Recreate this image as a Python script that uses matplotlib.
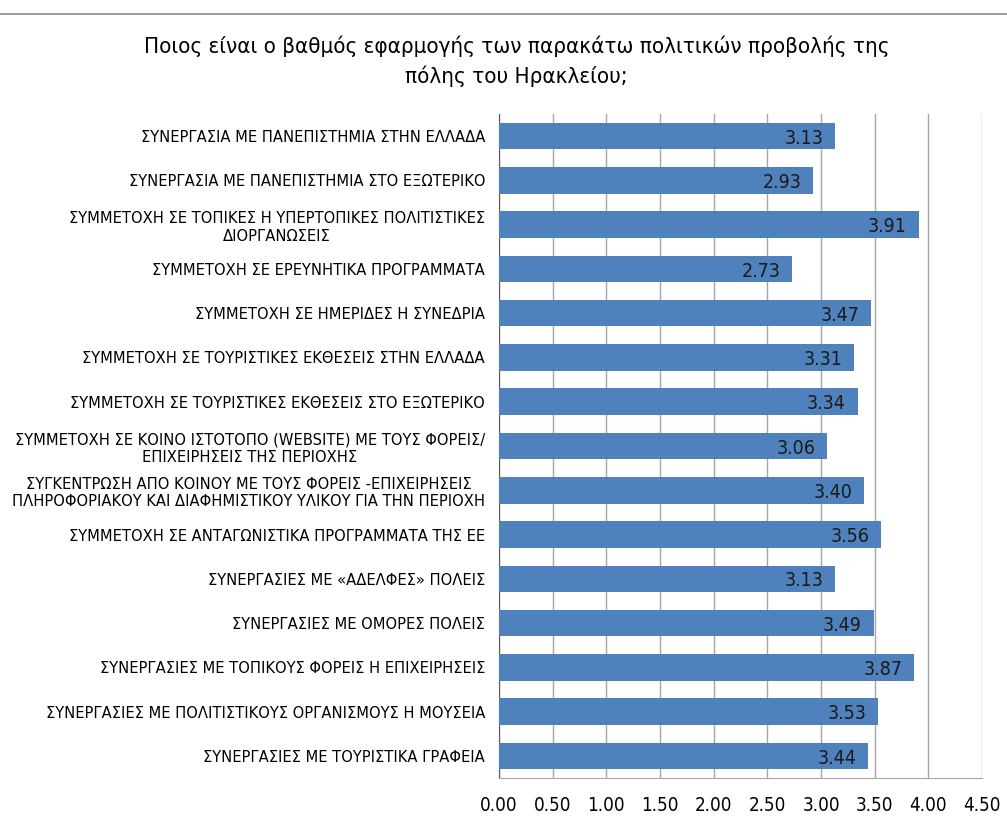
import matplotlib
matplotlib.use("Agg")
import matplotlib.pyplot as plt
import numpy as np

# data
######################################################################
categories = [
    "ΣΥΝΕΡΓΑΣΙΑ ΜΕ ΠΑΝΕΠΙΣΤΗΜΙΑ ΣΤΗΝ ΕΛΛΑΔΑ",
    "ΣΥΝΕΡΓΑΣΙΑ ΜΕ ΠΑΝΕΠΙΣΤΗΜΙΑ ΣΤΟ ΕΞΩΤΕΡΙΚΟ",
    "ΣΥΜΜΕΤΟΧΗ ΣΕ ΤΟΠΙΚΕΣ Η ΥΠΕΡΤΟΠΙΚΕΣ ΠΟΛΙΤΙΣΤΙΚΕΣ\nΔΙΟΡΓΑΝΩΣΕΙΣ",
    "ΣΥΜΜΕΤΟΧΗ ΣΕ ΕΡΕΥΝΗΤΙΚΑ ΠΡΟΓΡΑΜΜΑΤΑ",
    "ΣΥΜΜΕΤΟΧΗ ΣΕ ΗΜΕΡΙΔΕΣ Η ΣΥΝΕΔΡΙΑ",
    "ΣΥΜΜΕΤΟΧΗ ΣΕ ΤΟΥΡΙΣΤΙΚΕΣ ΕΚΘΕΣΕΙΣ ΣΤΗΝ ΕΛΛΑΔΑ",
    "ΣΥΜΜΕΤΟΧΗ ΣΕ ΤΟΥΡΙΣΤΙΚΕΣ ΕΚΘΕΣΕΙΣ ΣΤΟ ΕΞΩΤΕΡΙΚΟ",
    "ΣΥΜΜΕΤΟΧΗ ΣΕ ΚΟΙΝΟ ΙΣΤΟΤΟΠΟ (WEBSITE) ΜΕ ΤΟΥΣ ΦΟΡΕΙΣ/\nΕΠΙΧΕΙΡΗΣΕΙΣ ΤΗΣ ΠΕΡΙΟΧΗΣ",
    "ΣΥΓΚΕΝΤΡΩΣΗ ΑΠΟ ΚΟΙΝΟΥ ΜΕ ΤΟΥΣ ΦΟΡΕΙΣ -ΕΠΙΧΕΙΡΗΣΕΙΣ\nΠΛΗΡΟΦΟΡΙΑΚΟΥ ΚΑΙ ΔΙΑΦΗΜΙΣΤΙΚΟΥ ΥΛΙΚΟΥ ΓΙΑ ΤΗΝ ΠΕΡΙΟΧΗ",
    "ΣΥΜΜΕΤΟΧΗ ΣΕ ΑΝΤΑΓΩΝΙΣΤΙΚΑ ΠΡΟΓΡΑΜΜΑΤΑ ΤΗΣ ΕΕ",
    "ΣΥΝΕΡΓΑΣΙΕΣ ΜΕ «ΑΔΕΛΦΕΣ» ΠΟΛΕΙΣ",
    "ΣΥΝΕΡΓΑΣΙΕΣ ΜΕ ΟΜΟΡΕΣ ΠΟΛΕΙΣ",
    "ΣΥΝΕΡΓΑΣΙΕΣ ΜΕ ΤΟΠΙΚΟΥΣ ΦΟΡΕΙΣ Η ΕΠΙΧΕΙΡΗΣΕΙΣ",
    "ΣΥΝΕΡΓΑΣΙΕΣ ΜΕ ΠΟΛΙΤΙΣΤΙΚΟΥΣ ΟΡΓΑΝΙΣΜΟΥΣ Η ΜΟΥΣΕΙΑ",
    "ΣΥΝΕΡΓΑΣΙΕΣ ΜΕ ΤΟΥΡΙΣΤΙΚΑ ΓΡΑΦΕΙΑ",
]
scores = [3.13, 2.93, 3.91, 2.73, 3.47, 3.31, 3.34, 3.06, 3.40, 3.56,
          3.13, 3.49, 3.87, 3.53, 3.44]
xticks = [0.0, 0.5, 1.0, 1.5, 2.0, 2.5, 3.0, 3.5, 4.0, 4.5]
title = "Ποιος είναι ο βαθμός εφαρμογής των παρακάτω πολιτικών προβολής της\nπόλης του Ηρακλείου;"
######################################################################

plt.rcParams['font.family'] = ['DejaVu Sans']
plt.rcParams['font.stretch'] = 'condensed'

fig = plt.figure(figsize=(10.07, 8.16), dpi=100)
ax = fig.add_axes([0.4955, 0.0466, 0.4797, 0.8137])

y = np.arange(len(categories))
bars = ax.barh(y, scores, height=0.6, color='#4F81BD', zorder=3)
ax.set_ylim(len(categories) - 0.5, -0.5)
ax.set_xlim(0, 4.5)

# value labels inside the bar ends
for b, v in zip(bars, scores):
    ax.text(v - 0.11, b.get_y() + b.get_height() / 2 + 0.05, '%.2f' % v,
            ha='right', va='center', fontsize=14, color='#1a1a1a', zorder=4)

ax.set_yticks(y)
ax.set_yticklabels(categories, fontsize=11.8, multialignment='center')
ax.tick_params(axis='y', length=0, pad=10)
ax.set_xticks(xticks)
ax.set_xticklabels(['%.2f' % t for t in xticks], fontsize=13.5)
ax.tick_params(axis='x', length=0, pad=13)

ax.grid(axis='x', color='#A6A6A6', linewidth=1, zorder=0)
for s in ['top', 'right']:
    ax.spines[s].set_visible(False)
ax.spines['left'].set_color('#5a5a5a')
ax.spines['bottom'].set_color('#A6A6A6')

fig.text(0.513, 0.925, title, ha='center', va='center', fontsize=16, linespacing=1.45)

# chart border line at the top
fig.add_artist(plt.Line2D([0, 1], [0.983, 0.983], color='#8c8c8c', linewidth=1.2))

fig.savefig('out.png', dpi=100)
